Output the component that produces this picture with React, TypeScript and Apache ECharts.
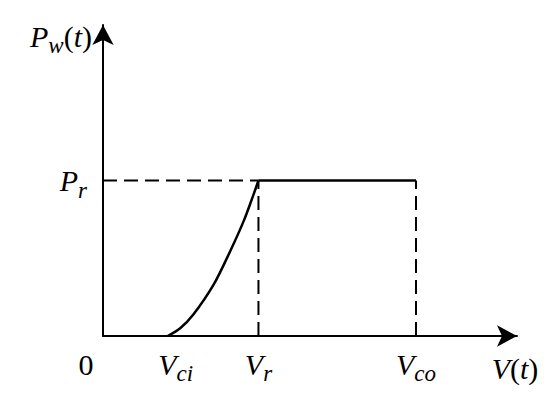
import React, { useEffect, useRef } from "react";
import * as echarts from "echarts";

// Wind speed (x) and power (y) values
const vCutIn = 3.1;
const vRated = 7.45;
const vCutOut = 15;
const pRated = 1;
const xMax = 19.84;
const yMax = 2.0;

// Rising part of the power curve between V_ci and V_r
const curveSpeed = [3.1, 3.7, 4.32, 5.3, 6.1, 6.75, 7.23, 7.45];
const curvePower = [0, 0.05, 0.136, 0.33, 0.547, 0.742, 0.916, 1];

// Tick labels on the axes (value -> rich label)
const xTickValues = [0, vCutIn, vRated, vCutOut];
const xTickLabels = ["{z|0}", "{vl|V}{s|ci}", "{v|V}{s|r}", "{v|V}{s|co}"];
const yTickValues = [pRated];
const yTickLabels = ["{v|P}{s|r}"];

const FONT = "Liberation Serif";

const rich = {
  v: { fontFamily: FONT, fontStyle: "italic", fontSize: 30, color: "#000", verticalAlign: "bottom" },
  vl: { fontFamily: FONT, fontStyle: "italic", fontSize: 30, color: "#000", verticalAlign: "bottom", padding: [0, 0, 0, 16] },
  s: { fontFamily: FONT, fontStyle: "italic", fontSize: 23, color: "#000", verticalAlign: "bottom", padding: [0, 0, -6, 0] },
  n: { fontFamily: FONT, fontSize: 30, color: "#000", verticalAlign: "bottom" },
  z: { fontFamily: FONT, fontSize: 30, color: "#000", padding: [0, 34, 0, 0] },
};

export default function App() {
  const ref = useRef<HTMLDivElement>(null);
  useEffect(() => {
    if (!ref.current) return;
    const chart = echarts.init(ref.current, undefined, { renderer: "svg" });
    const solid = { color: "#000", width: 2.5 };
    const dashed = { color: "#000", width: 2, type: [14, 7] as any };
    chart.setOption({
      animation: false,
      backgroundColor: "#fff",
      textStyle: { fontFamily: FONT, color: "#000" },
      grid: { left: 103, right: 33, top: 25, bottom: 60, containLabel: false, outerBoundsMode: "none" },
      xAxis: {
        type: "value",
        min: 0,
        max: xMax,
        splitLine: { show: false },
        axisTick: { show: false },
        axisLine: {
          show: true,
          symbol: ["none", "arrow"],
          symbolSize: [16, 20],
          lineStyle: { color: "#000", width: 2 },
        },
        axisLabel: {
          show: true,
          customValues: xTickValues,
          margin: 13,
          fontFamily: FONT,
          formatter: (val: number) => {
            const i = xTickValues.findIndex((t) => Math.abs(t - val) < 1e-6);
            return i >= 0 ? xTickLabels[i] : "";
          },
          rich,
        },
        name: "{v|V}{n|(}{v|t}{n|)}",
        nameLocation: "end",
        nameGap: -2,
        nameTextStyle: { fontFamily: FONT, align: "center", verticalAlign: "top", padding: [17, 0, 0, 0], rich },
      },
      yAxis: {
        type: "value",
        min: 0,
        max: yMax,
        splitLine: { show: false },
        axisTick: { show: false },
        axisLine: {
          show: true,
          symbol: ["none", "arrow"],
          symbolSize: [16, 20],
          lineStyle: { color: "#000", width: 2 },
        },
        axisLabel: {
          show: true,
          customValues: yTickValues,
          margin: 16,
          fontFamily: FONT,
          formatter: (val: number) => {
            const i = yTickValues.findIndex((t) => Math.abs(t - val) < 1e-6);
            return i >= 0 ? yTickLabels[i] : "";
          },
          rich,
        },
        name: "{v|P}{s|w}{n|(}{v|t}{n|)}",
        nameLocation: "end",
        nameGap: -11,
        nameTextStyle: { fontFamily: FONT, align: "right", verticalAlign: "middle", padding: [0, 11, 0, 0], rich },
      },
      series: [
        {
          type: "line",
          data: curveSpeed.map((v, i) => [v, curvePower[i]]),
          smooth: 0.3,
          showSymbol: false,
          lineStyle: solid,
        },
        {
          type: "line",
          data: [[vRated, pRated], [vCutOut, pRated]],
          showSymbol: false,
          lineStyle: solid,
        },
        {
          type: "line",
          data: [[0, pRated], [vRated, pRated]],
          showSymbol: false,
          lineStyle: dashed,
        },
        {
          type: "line",
          data: [[vRated, 0], [vRated, pRated]],
          showSymbol: false,
          lineStyle: dashed,
        },
        {
          type: "line",
          data: [[vCutOut, 0], [vCutOut, pRated]],
          showSymbol: false,
          lineStyle: dashed,
        },
      ],
    });
    return () => chart.dispose();
  }, []);
  return (
    <div
      ref={ref}
      style={{ position: "fixed", left: 0, top: 0, width: 550, height: 396, background: "#fff" }}
    />
  );
}
